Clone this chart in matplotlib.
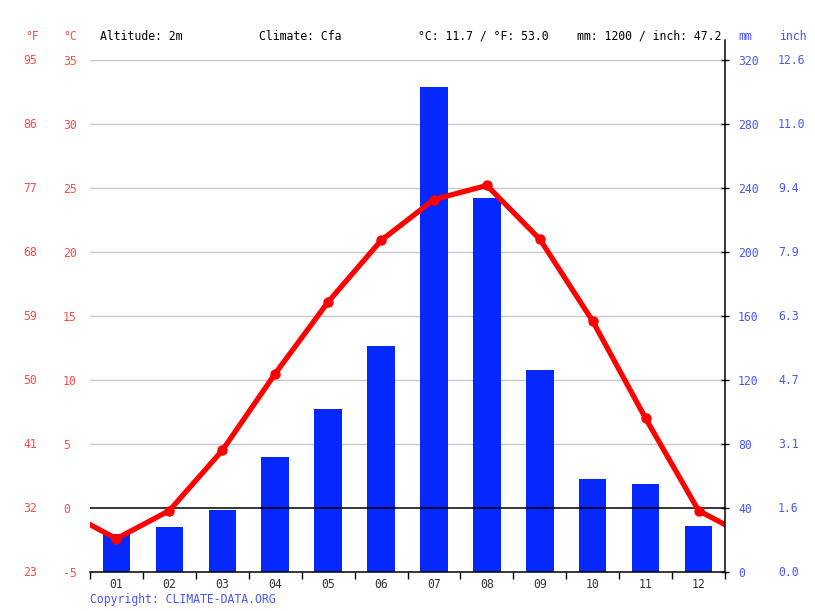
import matplotlib
matplotlib.use("Agg")
import matplotlib.pyplot as plt
from matplotlib.lines import Line2D
import matplotlib.transforms as mtrans

months = ["01", "02", "03", "04", "05", "06", "07", "08", "09", "10", "11", "12"]
temp_c = [-2.4, -0.2, 4.5, 10.5, 16.1, 20.9, 24.1, 25.2, 21.0, 14.6, 7.0, -0.2]
precip_mm = [24, 28, 39, 72, 102, 141, 303, 234, 126, 58, 55, 29]
c_ticks = [-5, 0, 5, 10, 15, 20, 25, 30, 35]
f_labels = ["23", "32", "41", "50", "59", "68", "77", "86", "95"]
mm_ticks = [0, 40, 80, 120, 160, 200, 240, 280, 320]
inch_labels = ["0.0", "1.6", "3.1", "4.7", "6.3", "7.9", "9.4", "11.0", "12.6"]
header_alt = "Altitude: 2m"
header_clim = "Climate: Cfa"
header_temp = "°C: 11.7 / °F: 53.0"
header_prec = "mm: 1200 / inch: 47.2"
copyright_txt = "Copyright: CLIMATE-DATA.ORG"

FONT = "DejaVu Sans Mono"
FS = 8.3
RED_LBL = "#ff4a4a"
BLUE_LBL = "#4a55ff"
BAR_BLUE = "#0528ff"
W, H = 815, 611

fig = plt.figure(figsize=(W / 100, H / 100), dpi=100)
L, R, T, B = 90, 725, 60, 572
ax_p = fig.add_axes([L / W, (H - B) / H, (R - L) / W, (B - T) / H])
ax_t = ax_p.twinx()

x = list(range(1, 13))
ax_p.bar(x, precip_mm, width=0.52, color=BAR_BLUE, zorder=2)
ax_p.set_ylim(0, 320)
ax_p.set_xlim(0.5, 12.5)

# temperature line extended to edges by wrap-around (Dec/Jan mean)
edge = (temp_c[0] + temp_c[-1]) / 2
ax_t.plot([0.5] + x + [12.5], [edge] + temp_c + [edge], color="#ff0000", lw=3.8,
          solid_joinstyle="round", zorder=5)
ax_t.plot(x, temp_c, "o", color="#ff0000", ms=6.5, zorder=6)
ax_t.set_ylim(-5, 35)
ax_t.set_xlim(0.5, 12.5)

# gridlines (on precipitation axes, behind bars)
for c in c_ticks[1:]:
    if c == 0:
        continue
    ax_p.axhline((c + 5) * 8, color="#c8c8c8", lw=1.0, zorder=1)
ax_t.axhline(0, color="black", lw=1.1, zorder=4)

for a in (ax_p, ax_t):
    for s in ("top", "left", "right", "bottom"):
        a.spines[s].set_visible(False)
ax_t.patch.set_visible(False)

# bottom axis
ax_p.spines["bottom"].set_visible(True)
ax_p.spines["bottom"].set_color("black")
ax_p.spines["bottom"].set_linewidth(1.1)
ax_p.set_xticks([i + 0.5 for i in range(0, 13)])
ax_p.set_xticklabels([])
ax_p.set_xticks(x, minor=True)
ax_p.set_xticklabels(months, minor=True, fontfamily=FONT, fontsize=FS, color="#333333")
ax_p.tick_params(axis="x", which="major", direction="out", length=5, width=1, color="black")
ax_p.tick_params(axis="x", which="minor", length=0, pad=4)

# left °C labels
ax_t.yaxis.tick_left()
ax_t.set_yticks(c_ticks)
ax_t.set_yticklabels([str(c) for c in c_ticks], fontfamily=FONT, fontsize=FS,
                     color=RED_LBL, ha="left")
ax_t.tick_params(axis="y", length=0, pad=19.4)
ax_t.tick_params(axis="y", which="minor", length=0)

# right mm labels
ax_p.yaxis.tick_right()
ax_p.set_yticks(mm_ticks)
ax_p.set_yticklabels([str(m) for m in mm_ticks], fontfamily=FONT, fontsize=FS,
                     color=BLUE_LBL, ha="left")
ax_p.tick_params(axis="y", direction="inout", length=6, width=1, color="black", pad=6.4)

# °F labels
trans_f = mtrans.blended_transform_factory(fig.transFigure, ax_t.transData)
for c, f in zip(c_ticks, f_labels):
    fig.text(23 / W, c, f, transform=trans_f, fontfamily=FONT, fontsize=FS,
             color=RED_LBL, ha="left", va="center")
# inch labels
trans_i = mtrans.blended_transform_factory(fig.transFigure, ax_p.transData)
for m, lab in zip(mm_ticks, inch_labels):
    fig.text(778 / W, m, lab, transform=trans_i, fontfamily=FONT, fontsize=FS,
             color=BLUE_LBL, ha="left", va="center")

# right spine extended above plot
fig.add_artist(Line2D([R / W, R / W], [(H - B) / H, (H - 40) / H], color="black",
                      lw=1.1, transform=fig.transFigure))

# header
hy = (H - 36) / H
def ftext(px, s, color="black", ha="left"):
    fig.text(px / W, hy, s, fontfamily=FONT, fontsize=FS, color=color, ha=ha, va="center")

ftext(25, "°F", RED_LBL)
ftext(63, "°C", RED_LBL)
ftext(100, header_alt)
ftext(259, header_clim)
ftext(418, header_temp)
ftext(721, header_prec, ha="right")
ftext(738, "mm", BLUE_LBL)
ftext(779, "inch", BLUE_LBL)

fig.text(90 / W, (H - 599) / H, copyright_txt, fontfamily=FONT, fontsize=FS,
         color=BLUE_LBL, ha="left", va="center")

fig.savefig("out.png", dpi=100)
